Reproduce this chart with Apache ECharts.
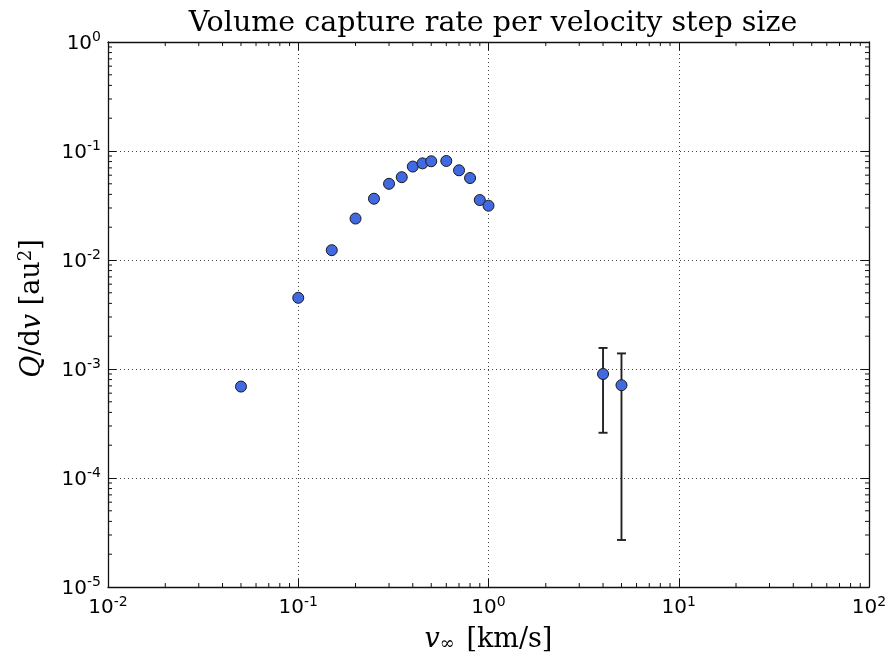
<!DOCTYPE html>
<html><head><meta charset="utf-8">
<script src="https://cdn.jsdelivr.net/npm/echarts@6/dist/echarts.min.js"></script>
<style>html,body{margin:0;padding:0;background:#fff}#c{width:892px;height:658px}</style>
</head><body><div id="c"></div>
<script>
// ---- data ----
const velocity = [0.05, 0.1, 0.15, 0.2, 0.25, 0.3, 0.35, 0.4, 0.45, 0.5, 0.6, 0.7, 0.8, 0.9, 1.0, 4, 5];
const captureRate = [6.9e-4, 4.5e-3, 1.23e-2, 2.4e-2, 3.65e-2, 5.0e-2, 5.75e-2, 7.2e-2, 7.7e-2, 8.05e-2, 8.1e-2, 6.65e-2, 5.65e-2, 3.55e-2, 3.15e-2, 9.0e-4, 7.1e-4];
const errVelocity = [4, 5];
const errLow = [2.6e-4, 2.7e-5];
const errHigh = [1.56e-3, 1.39e-3];
const xDecades = [-2, -1, 0, 1];      // decades carrying minor ticks
const yDecades = [-5, -4, -3, -2, -1];
const minorMult = [2, 3, 4, 5, 6, 7, 8, 9];
const titleText = 'Volume capture rate per velocity step size';

const X_MIN = 1e-2, X_MAX = 1e2, Y_MIN = 1e-5, Y_MAX = 1;

const scatterData = velocity.map((v, i) => [v, captureRate[i]]);
const errData = errVelocity.map((v, i) => [v, errLow[i], errHigh[i]]);
const minorData = [];
xDecades.forEach(d => minorMult.forEach(m => minorData.push([m * Math.pow(10, d), Y_MIN, 0])));
yDecades.forEach(d => minorMult.forEach(m => minorData.push([X_MIN, m * Math.pow(10, d), 1])));

const sans = 'DejaVu Sans';
const serif = 'DejaVu Serif';
const labelRich = {
  b: { fontSize: 20, fontFamily: sans, color: '#000', verticalAlign: 'bottom' },
  s: { fontSize: 14, fontFamily: sans, color: '#000', verticalAlign: 'bottom', padding: [0, 0, 9, 0] }
};
const powFmt = v => '{b|10}{s|' + Math.round(Math.log10(v)) + '}';
const frame = { show: true, lineStyle: { color: '#111', width: 1.3 } };
const grid = { show: true, lineStyle: { color: '#444', width: 1, type: [1, 3] } };

const chart = echarts.init(document.getElementById('c'), null, { renderer: 'canvas' });
chart.setOption({
  backgroundColor: '#fff',
  animation: false,
  title: {
    text: titleText, left: 488, top: 4, textAlign: 'center',
    textStyle: { fontFamily: serif, fontSize: 28.5, fontWeight: 'normal', color: '#000' }
  },
  grid: { left: 108, right: 23, top: 42, bottom: 70, containLabel: false },
  xAxis: [{
    type: 'log', logBase: 10, min: X_MIN, max: X_MAX, interval: 1, position: 'bottom',
    axisLine: frame, axisTick: { show: true, inside: true, length: 8, lineStyle: { color: '#111' } },
    axisLabel: { formatter: powFmt, rich: labelRich, margin: 8 },
    splitLine: grid,
    name: '{i|v}{sub|∞} [km/s]', nameLocation: 'middle', nameGap: 39,
    nameTextStyle: {
      fontFamily: serif, fontSize: 27, color: '#000',
      rich: {
        i: { fontFamily: serif, fontStyle: 'italic', fontSize: 27, color: '#000', verticalAlign: 'bottom' },
        sub: { fontFamily: serif, fontSize: 18, color: '#000', verticalAlign: 'bottom', padding: [0, 3, 0, 0] }
      }
    }
  }, {
    type: 'log', logBase: 10, min: X_MIN, max: X_MAX, interval: 1, position: 'top',
    axisLine: frame, axisTick: { show: true, inside: true, length: 8, lineStyle: { color: '#111' } },
    axisLabel: { show: false }, splitLine: { show: false }
  }],
  yAxis: [{
    type: 'log', logBase: 10, min: Y_MIN, max: Y_MAX, interval: 1, position: 'left',
    axisLine: frame, axisTick: { show: true, inside: true, length: 8, lineStyle: { color: '#111' } },
    axisLabel: { formatter: powFmt, rich: labelRich, margin: 7 },
    splitLine: grid,
    name: '{i|Q}/d{i|v} [au{sup|2}]', nameLocation: 'middle', nameGap: 62, nameRotate: 90,
    nameTextStyle: {
      fontFamily: serif, fontSize: 27, color: '#000', padding: [0, 0, 0, 12],
      rich: {
        i: { fontFamily: serif, fontStyle: 'italic', fontSize: 27, color: '#000', verticalAlign: 'bottom' },
        sup: { fontFamily: serif, fontSize: 18, color: '#000', verticalAlign: 'bottom', padding: [0, 0, 11, 0] }
      }
    }
  }, {
    type: 'log', logBase: 10, min: Y_MIN, max: Y_MAX, interval: 1, position: 'right',
    axisLine: frame, axisTick: { show: true, inside: true, length: 8, lineStyle: { color: '#111' } },
    axisLabel: { show: false }, splitLine: { show: false }
  }],
  series: [{
    type: 'custom', name: 'minorTicks', silent: true, z: 1,
    encode: { x: 0, y: 1 },
    data: minorData,
    renderItem(params, api) {
      const cs = params.coordSys, L = 4;
      if (api.value(2) === 0) {
        const px = api.coord([api.value(0), Y_MIN])[0];
        return { type: 'group', children: [
          { type: 'line', shape: { x1: px, y1: cs.y + cs.height, x2: px, y2: cs.y + cs.height - L }, style: { stroke: '#111', lineWidth: 1 } },
          { type: 'line', shape: { x1: px, y1: cs.y, x2: px, y2: cs.y + L }, style: { stroke: '#111', lineWidth: 1 } }
        ] };
      }
      const py = api.coord([X_MIN, api.value(1)])[1];
      return { type: 'group', children: [
        { type: 'line', shape: { x1: cs.x, y1: py, x2: cs.x + L, y2: py }, style: { stroke: '#111', lineWidth: 1 } },
        { type: 'line', shape: { x1: cs.x + cs.width, y1: py, x2: cs.x + cs.width - L, y2: py }, style: { stroke: '#111', lineWidth: 1 } }
      ] };
    }
  }, {
    type: 'custom', name: 'errorbars', silent: true, z: 3,
    encode: { x: 0, y: [1, 2] },
    data: errData,
    renderItem(params, api) {
      const x = api.value(0);
      const lo = api.coord([x, api.value(1)]);
      const hi = api.coord([x, api.value(2)]);
      const c = 4.5, st = { stroke: '#222', lineWidth: 1.9 };
      return { type: 'group', children: [
        { type: 'line', shape: { x1: lo[0], y1: lo[1], x2: hi[0], y2: hi[1] }, style: st },
        { type: 'line', shape: { x1: lo[0] - c, y1: lo[1], x2: lo[0] + c, y2: lo[1] }, style: st },
        { type: 'line', shape: { x1: hi[0] - c, y1: hi[1], x2: hi[0] + c, y2: hi[1] }, style: st }
      ] };
    }
  }, {
    type: 'scatter', name: 'Q/dv', z: 5,
    data: scatterData, symbol: 'circle', symbolSize: 11,
    itemStyle: { color: '#4169e1', borderColor: '#1a1a1a', borderWidth: 1, opacity: 1 }
  }]
});
</script>
</body></html>
